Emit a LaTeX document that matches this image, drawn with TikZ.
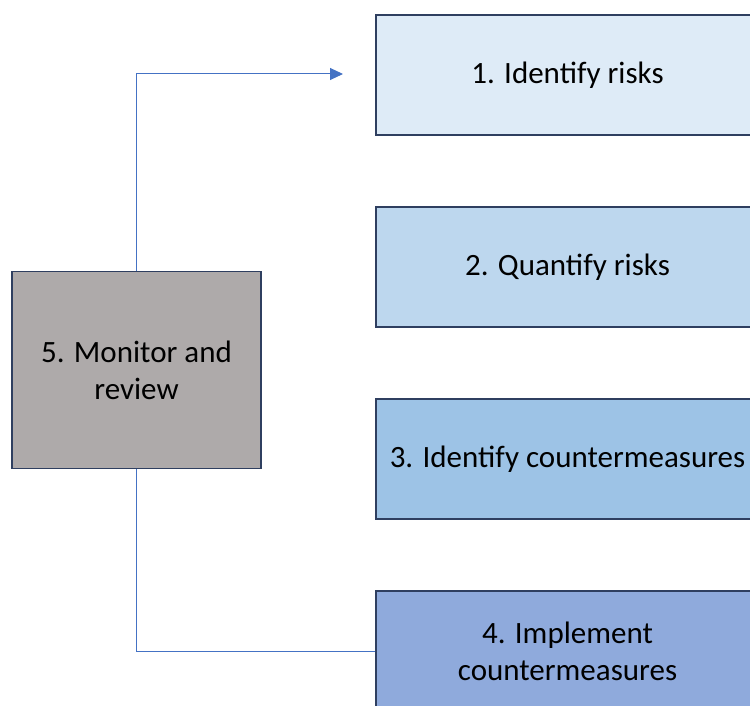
\documentclass[tikz,border=0pt]{standalone}
\usepackage{fontspec}
\setmainfont{Carlito}
\usetikzlibrary{arrows.meta}
\definecolor{edgeblue}{HTML}{2F3F60}
\definecolor{lineblue}{HTML}{4472C4}
\definecolor{fillA}{HTML}{DEEBF7}
\definecolor{fillB}{HTML}{BDD7EE}
\definecolor{fillC}{HTML}{9DC3E6}
\definecolor{fillD}{HTML}{8FAADC}
\definecolor{fillE}{HTML}{AEAAAA}
\tikzset{
  stage/.style={draw=edgeblue, line width=1.3pt, minimum width=383pt, minimum height=120pt,
    align=center, inner sep=0pt, font=\fontsize{31}{37}\selectfont},
  link/.style={draw=lineblue, line width=1pt}
}

\begin{document}
\begin{tikzpicture}[x=1pt, y=-1pt]
\useasboundingbox (0, 0) rectangle (750, 706);
\clip (0, 0) rectangle (750, 706);
\node[stage, fill=fillA] (ident) at (567.5, 75) {1. Identify risks};
\node[stage, fill=fillB] (quant) at (567.5, 267) {2. Quantify risks};
\node[stage, fill=fillC] (counter) at (567.5, 459) {3. Identify countermeasures};
\node[stage, fill=fillD] (impl) at (567.5, 651) {4. Implement\\countermeasures};
\node[stage, fill=fillE, minimum width=249pt, minimum height=197pt] (monitor) at (136.5, 370) {5. Monitor and\\review};
\coordinate (tip) at (343, 74);
\draw[link, -{Triangle[length=13pt, width=12pt]}] (monitor.north) |- (tip);
\draw[link] (impl.west) -| (monitor.south);
\end{tikzpicture}
\end{document}
